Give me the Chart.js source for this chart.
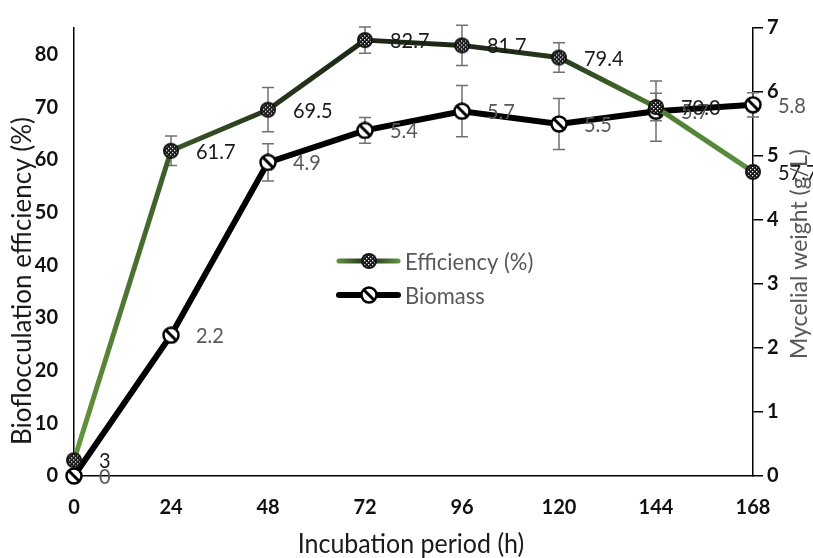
<!DOCTYPE html>
<html>
<head>
<meta charset="utf-8">
<script src="https://cdn.jsdelivr.net/npm/chart.js@4.4.1/dist/chart.umd.min.js"></script>
<style>
html, body { margin: 0; padding: 0; background: #fff; }
#wrap { width: 813px; height: 558px; }
</style>
</head>
<body>
<div id="wrap"><canvas id="chart" width="813" height="558"></canvas></div>
<script>
// donnees
const hours = ['0', '24', '48', '72', '96', '120', '144', '168'];
const efficiency = [3, 61.7, 69.5, 82.7, 81.7, 79.4, 70.0, 57.7];
const efficiencyErr = [0, 2.8, 4.2, 2.5, 3.8, 2.8, 2.6, 0];
const efficiencyLabels = ['3', '61.7', '69.5', '82.7', '81.7', '79.4', '70.0', '57.7'];
const biomass = [0, 2.2, 4.9, 5.4, 5.7, 5.5, 5.7, 5.8];
const biomassErr = [0, 0, 0.29, 0.2, 0.4, 0.4, 0.47, 0.19];
const biomassLabels = ['0', '2.2', '4.9', '5.4', '5.7', '5.5', '5.7', '5.8'];
const leftTicks = [0, 10, 20, 30, 40, 50, 60, 70, 80];
const rightTicks = [0, 1, 2, 3, 4, 5, 6, 7];

// couleurs du trait vert (clair en bas, fonce en haut)
const effColors = ['#64983f', '#3a5927', '#27371c', '#1d2715', '#1d2715', '#27381c', '#4d7b32', '#5e9140'];
const FONT = 'Lato';

// marqueurs
function makeEffMarker() {
    const c = document.createElement('canvas');
    c.width = 18; c.height = 18;
    const g = c.getContext('2d');
    g.beginPath();
    g.arc(9, 9, 8, 0, Math.PI * 2);
    g.fillStyle = '#141414';
    g.fill();
    g.save();
    g.beginPath();
    g.arc(9, 9, 6, 0, Math.PI * 2);
    g.clip();
    g.fillStyle = '#ffffff';
    for (let y = 2; y < 16; y += 2) {
        for (let x = 2; x < 16; x += 2) {
            if (((x + y) / 2) % 2 === 0) g.fillRect(x, y, 1.3, 1.3);
        }
    }
    g.restore();
    return c;
}

function makeBioMarker() {
    const c = document.createElement('canvas');
    c.width = 18; c.height = 18;
    const g = c.getContext('2d');
    g.beginPath();
    g.arc(9, 9, 7.5, 0, Math.PI * 2);
    g.fillStyle = '#ffffff';
    g.fill();
    g.save();
    g.clip();
    g.strokeStyle = '#000';
    g.lineWidth = 3;
    g.beginPath();
    g.moveTo(3, 3); g.lineTo(15, 15);
    g.stroke();
    g.restore();
    g.beginPath();
    g.arc(9, 9, 7.5, 0, Math.PI * 2);
    g.lineWidth = 2.5;
    g.strokeStyle = '#000';
    g.stroke();
    return c;
}

const effMarker = makeEffMarker();
const bioMarker = makeBioMarker();

// barres d'erreur
const errorBars = {
    id: 'errorBars',
    beforeDatasetsDraw(chart) {
        const ctx = chart.ctx;
        const x = chart.scales.x;
        ctx.save();
        ctx.strokeStyle = '#707070';
        ctx.lineWidth = 1.5;
        const sets = [[efficiency, efficiencyErr, chart.scales.y], [biomass, biomassErr, chart.scales.y1]];
        sets.forEach(([vals, errs, ys]) => {
            vals.forEach((v, i) => {
                if (!errs[i]) return;
                const px = x.getPixelForValue(i);
                const top = ys.getPixelForValue(v + errs[i]);
                const bot = ys.getPixelForValue(v - errs[i]);
                ctx.beginPath();
                ctx.moveTo(px, top); ctx.lineTo(px, bot);
                ctx.moveTo(px - 6, top); ctx.lineTo(px + 6, top);
                ctx.moveTo(px - 6, bot); ctx.lineTo(px + 6, bot);
                ctx.stroke();
            });
        });
        ctx.restore();
    }
};

// texte un peu etire verticalement, comme dans l'original
function tallText(ctx, text, x, y, sy) {
    ctx.save();
    ctx.translate(x, y);
    ctx.scale(1, sy);
    ctx.fillText(text, 0, 0);
    ctx.restore();
}

// etiquettes, titres et legende
const decorations = {
    id: 'decorations',
    afterDatasetsDraw(chart) {
        const ctx = chart.ctx;
        ctx.save();
        ctx.font = `20px ${FONT}`;
        ctx.textBaseline = 'middle';
        ctx.textAlign = 'left';
        chart.getDatasetMeta(1).data.forEach((p, i) => {
            ctx.fillStyle = '#595959';
            tallText(ctx, biomassLabels[i], p.x + 25, p.y + 1, 1.1);
        });
        chart.getDatasetMeta(0).data.forEach((p, i) => {
            ctx.fillStyle = '#1a1a1a';
            tallText(ctx, efficiencyLabels[i], p.x + 25, p.y + 1, 1.1);
        });
        ctx.restore();
    },
    afterDraw(chart) {
        const ctx = chart.ctx;
        ctx.save();
        ctx.textAlign = 'center';
        ctx.textBaseline = 'middle';

        ctx.fillStyle = '#1a1a1a';
        ctx.font = `25px ${FONT}`;
        tallText(ctx, 'Incubation period (h)', 411, 545, 1.05);

        ctx.save();
        ctx.font = `26px ${FONT}`;
        ctx.translate(23, 281);
        ctx.rotate(-Math.PI / 2);
        ctx.fillText('Bioflocculation efficiency (%)', 0, 0);
        ctx.restore();

        ctx.save();
        ctx.font = `23px ${FONT}`;
        ctx.translate(800, 254);
        ctx.rotate(-Math.PI / 2);
        ctx.fillStyle = '#595959';
        ctx.fillText('Mycelial weight (g/L)', 0, 0);
        ctx.restore();

        // legende
        const grad = ctx.createLinearGradient(338, 0, 398, 0);
        grad.addColorStop(0, '#5e9140');
        grad.addColorStop(0.5, '#1d2715');
        grad.addColorStop(1, '#5e9140');
        ctx.lineCap = 'round';
        ctx.strokeStyle = grad;
        ctx.lineWidth = 5;
        ctx.beginPath();
        ctx.moveTo(339, 261); ctx.lineTo(398, 261);
        ctx.stroke();
        ctx.drawImage(effMarker, 369 - 9, 261 - 9);

        ctx.strokeStyle = '#000';
        ctx.lineWidth = 6;
        ctx.beginPath();
        ctx.moveTo(339, 295); ctx.lineTo(398, 295);
        ctx.stroke();
        ctx.drawImage(bioMarker, 369 - 9, 295 - 9);

        ctx.font = `22px ${FONT}`;
        ctx.textAlign = 'left';
        ctx.fillStyle = '#595959';
        tallText(ctx, 'Efficiency (%)', 405, 262, 1.08);
        tallText(ctx, 'Biomass', 405, 296, 1.08);
        ctx.restore();
    }
};

function segmentColor(ctx) {
    const p0 = ctx.p0, p1 = ctx.p1;
    const g = ctx.chart.ctx.createLinearGradient(p0.x, p0.y, p1.x, p1.y);
    g.addColorStop(0, effColors[ctx.p0DataIndex]);
    g.addColorStop(1, effColors[ctx.p1DataIndex]);
    return g;
}

const tickFont = { family: FONT, size: 20, weight: 'bold' };

new Chart(document.getElementById('chart').getContext('2d'), {
    type: 'line',
    data: {
        labels: hours,
        datasets: [
            {
                label: 'Efficiency (%)',
                data: efficiency,
                yAxisID: 'y',
                borderColor: '#2a3d1e',
                borderWidth: 5,
                segment: { borderColor: segmentColor },
                pointStyle: effMarker,
                pointRadius: 9,
                tension: 0,
                clip: false,
                order: 0
            },
            {
                label: 'Biomass',
                data: biomass,
                yAxisID: 'y1',
                borderColor: '#000000',
                borderWidth: 6,
                pointStyle: bioMarker,
                pointRadius: 9,
                tension: 0,
                clip: false,
                order: 1
            }
        ]
    },
    options: {
        responsive: false,
        animation: false,
        devicePixelRatio: 1,
        layout: { padding: { top: 17, left: 0, right: 0, bottom: 0 } },
        plugins: {
            legend: { display: false },
            tooltip: { enabled: false }
        },
        scales: {
            x: {
                offset: false,
                grid: { display: false, drawTicks: false },
                border: { display: true, color: '#000', width: 1.5 },
                ticks: { font: tickFont, color: '#111', padding: 20, maxRotation: 0, autoSkip: false },
                afterFit: (s) => { s.height = 82; }
            },
            y: {
                position: 'left',
                min: 0,
                max: 85,
                afterBuildTicks: (s) => { s.ticks = leftTicks.map(v => ({ value: v })); },
                grid: { display: false, drawTicks: false },
                border: { display: true, color: '#000', width: 1.5 },
                ticks: { font: tickFont, color: '#111', padding: 16 },
                afterFit: (s) => { s.width = 74; }
            },
            y1: {
                position: 'right',
                min: 0,
                max: 7,
                afterBuildTicks: (s) => { s.ticks = rightTicks.map(v => ({ value: v })); },
                grid: { drawOnChartArea: false, drawTicks: true, tickLength: 10, color: '#000', lineWidth: 1.5 },
                border: { display: true, color: '#000', width: 1.5 },
                ticks: { font: tickFont, color: '#111', padding: 4 },
                afterFit: (s) => { s.width = 60; }
            }
        }
    },
    plugins: [errorBars, decorations]
});
</script>
</body>
</html>
